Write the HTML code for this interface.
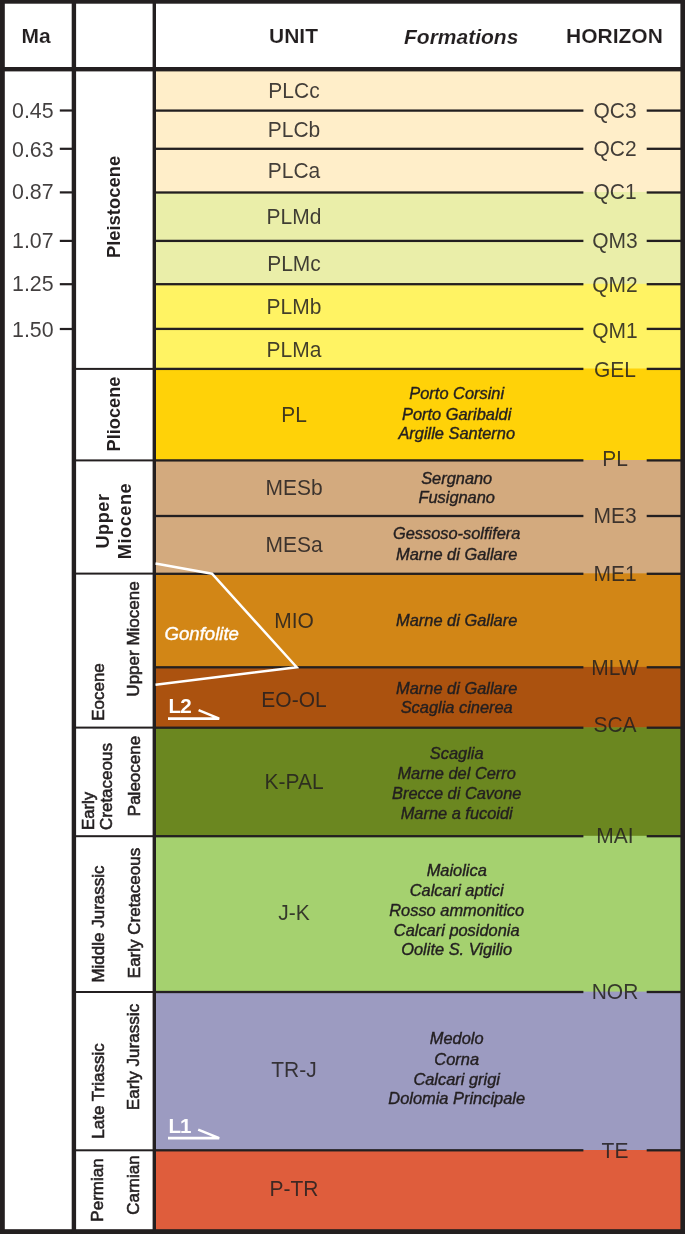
<!DOCTYPE html>
<html lang="en"><head><meta charset="utf-8"><title>Stratigraphic chart</title>
<style>
html,body{margin:0;padding:0;background:#fff;}
body{width:685px;height:1234px;position:relative;overflow:hidden;font-family:"Liberation Sans",sans-serif;color:#231f20;}
#c{position:absolute;left:0;top:0;width:685px;height:1234px;overflow:hidden;}
#c div{position:absolute;}
.k{background:#231f20;}
.t{white-space:nowrap;line-height:1;}
.u{color:rgba(35,31,32,.86);font-size:21.6px;transform:translate(-50%,-50%) scaleX(0.972);}
.h{color:rgba(35,31,32,.86);font-size:21.6px;transform:translate(-50%,-50%) scaleX(0.972);}
.f{font-size:16.4px;font-style:italic;-webkit-text-stroke:0.4px #231f20;transform:translate(-50%,0);}
.m{color:rgba(35,31,32,.86);font-size:22px;transform-origin:0 50%;transform:translate(0,-50%) scaleX(0.972);}
.hd{font-size:21px;font-weight:bold;-webkit-text-stroke:0.12px #fff;}
.r{transform-origin:0 0;}
.w{color:#fff;}
</style></head><body><div id="c">
<svg style="position:absolute;left:0;top:0" width="685" height="1234" viewBox="0 0 685 1234">
<rect x="154" y="69" width="527.6" height="123.6" fill="#ffeec9"/>
<rect x="154" y="192" width="527.6" height="92.4" fill="#eaeea9"/>
<rect x="154" y="283.8" width="527.6" height="85.3" fill="#fff363"/>
<rect x="154" y="368.5" width="527.6" height="92.1" fill="#ffd208"/>
<rect x="154" y="460" width="527.6" height="113.9" fill="#d3aa7e"/>
<rect x="154" y="573.3" width="527.6" height="94.2" fill="#d28616"/>
<rect x="154" y="666.9" width="527.6" height="61" fill="#ab520f"/>
<rect x="154" y="727.3" width="527.6" height="109.1" fill="#6b8720"/>
<rect x="154" y="835.8" width="527.6" height="156.4" fill="#a5d16f"/>
<rect x="154" y="991.6" width="527.6" height="159" fill="#9c9bc1"/>
<rect x="154" y="1150" width="527.6" height="81.6" fill="#df5d3c"/>
<g fill="#231f20">
<rect x="0" y="0" width="4.8" height="1234"/>
<rect x="0" y="0" width="685" height="3.7"/>
<rect x="680.4" y="0" width="4.6" height="1234"/>
<rect x="0" y="1229.2" width="685" height="4.8"/>
<rect x="0" y="67" width="685" height="4.4"/>
<rect x="71.7" y="0" width="4.4" height="1234"/>
<rect x="152.6" y="0" width="3.4" height="1234"/>
<rect x="155" y="109.45" width="428.4" height="2.3"/>
<rect x="646.7" y="109.45" width="34.9" height="2.3"/>
<rect x="155" y="147.65" width="428.4" height="2.3"/>
<rect x="646.7" y="147.65" width="34.9" height="2.3"/>
<rect x="155" y="191.35" width="428.4" height="2.3"/>
<rect x="646.7" y="191.35" width="34.9" height="2.3"/>
<rect x="155" y="239.75" width="428.4" height="2.3"/>
<rect x="646.7" y="239.75" width="34.9" height="2.3"/>
<rect x="155" y="283.05" width="428.4" height="2.3"/>
<rect x="646.7" y="283.05" width="34.9" height="2.3"/>
<rect x="155" y="327.75" width="428.4" height="2.3"/>
<rect x="646.7" y="327.75" width="34.9" height="2.3"/>
<rect x="155" y="367.75" width="428.4" height="2.3"/>
<rect x="646.7" y="367.75" width="34.9" height="2.3"/>
<rect x="155" y="459.25" width="428.4" height="2.3"/>
<rect x="646.7" y="459.25" width="34.9" height="2.3"/>
<rect x="155" y="514.85" width="428.4" height="2.3"/>
<rect x="646.7" y="514.85" width="34.9" height="2.3"/>
<rect x="155" y="572.65" width="428.4" height="2.3"/>
<rect x="646.7" y="572.65" width="34.9" height="2.3"/>
<rect x="155" y="666.15" width="428.4" height="2.3"/>
<rect x="646.7" y="666.15" width="34.9" height="2.3"/>
<rect x="155" y="726.55" width="428.4" height="2.3"/>
<rect x="646.7" y="726.55" width="34.9" height="2.3"/>
<rect x="155" y="835.05" width="428.4" height="2.3"/>
<rect x="646.7" y="835.05" width="34.9" height="2.3"/>
<rect x="155" y="990.85" width="428.4" height="2.3"/>
<rect x="646.7" y="990.85" width="34.9" height="2.3"/>
<rect x="155" y="1149.15" width="428.4" height="2.3"/>
<rect x="646.7" y="1149.15" width="34.9" height="2.3"/>
<rect x="75" y="367.9" width="79" height="2"/>
<rect x="75" y="459.4" width="79" height="2"/>
<rect x="75" y="572.6" width="79" height="2"/>
<rect x="75" y="726.6" width="79" height="2"/>
<rect x="75" y="835.2" width="79" height="2"/>
<rect x="75" y="991" width="79" height="2"/>
<rect x="75" y="1149.3" width="79" height="2"/>
<rect x="59.8" y="109.4" width="13" height="2.2"/>
<rect x="59.8" y="147.7" width="13" height="2.2"/>
<rect x="59.8" y="191.3" width="13" height="2.2"/>
<rect x="59.8" y="239.8" width="13" height="2.2"/>
<rect x="59.8" y="283.1" width="13" height="2.2"/>
<rect x="59.8" y="327.9" width="13" height="2.2"/>
</g></svg>
<div class="t h" style="left:614.5px;top:111.05px">QC3</div>
<div class="t h" style="left:614.5px;top:149.25px">QC2</div>
<div class="t h" style="left:614.5px;top:191.55px">QC1</div>
<div class="t h" style="left:614.5px;top:241.35px">QM3</div>
<div class="t h" style="left:614.5px;top:285.35px">QM2</div>
<div class="t h" style="left:614.5px;top:330.55px">QM1</div>
<div class="t h" style="left:614.5px;top:369.95px">GEL</div>
<div class="t h" style="left:614.5px;top:459.25px">PL</div>
<div class="t h" style="left:614.5px;top:515.95px">ME3</div>
<div class="t h" style="left:614.5px;top:573.55px">ME1</div>
<div class="t h" style="left:614.5px;top:668.45px">MLW</div>
<div class="t h" style="left:614.5px;top:725.45px">SCA</div>
<div class="t h" style="left:614.5px;top:836.35px">MAI</div>
<div class="t h" style="left:614.5px;top:991.85px">NOR</div>
<div class="t h" style="left:614.5px;top:1150.55px">TE</div>
<div class="t m" style="left:12px;top:110.8px">0.45</div>
<div class="t m" style="left:12px;top:150.2px">0.63</div>
<div class="t m" style="left:12px;top:192.1px">0.87</div>
<div class="t m" style="left:12px;top:240.9px">1.07</div>
<div class="t m" style="left:12px;top:284.1px">1.25</div>
<div class="t m" style="left:12px;top:329.5px">1.50</div>
<div class="t u" style="left:293.7px;top:91.15px">PLCc</div>
<div class="t u" style="left:293.7px;top:130.25px">PLCb</div>
<div class="t u" style="left:293.7px;top:171.05px">PLCa</div>
<div class="t u" style="left:293.7px;top:217.05px">PLMd</div>
<div class="t u" style="left:293.7px;top:263.95px">PLMc</div>
<div class="t u" style="left:293.7px;top:307.25px">PLMb</div>
<div class="t u" style="left:293.7px;top:349.55px">PLMa</div>
<div class="t u" style="left:293.7px;top:414.95px">PL</div>
<div class="t u" style="left:293.7px;top:488.05px">MESb</div>
<div class="t u" style="left:293.7px;top:544.55px">MESa</div>
<div class="t u" style="left:293.7px;top:621.35px">MIO</div>
<div class="t u" style="left:293.7px;top:699.75px">EO-OL</div>
<div class="t u" style="left:293.7px;top:782.05px">K-PAL</div>
<div class="t u" style="left:293.7px;top:912.95px">J-K</div>
<div class="t u" style="left:293.7px;top:1069.55px">TR-J</div>
<div class="t u" style="left:293.7px;top:1188.55px">P-TR</div>
<div class="t f" style="left:456.7px;top:385.296px">Porto Corsini</div>
<div class="t f" style="left:456.7px;top:405.596px">Porto Garibaldi</div>
<div class="t f" style="left:456.7px;top:425.196px">Argille Santerno</div>
<div class="t f" style="left:456.7px;top:469.996px">Sergnano</div>
<div class="t f" style="left:456.7px;top:489.196px">Fusignano</div>
<div class="t f" style="left:456.7px;top:524.996px">Gessoso-solfifera</div>
<div class="t f" style="left:456.7px;top:545.796px">Marne di Gallare</div>
<div class="t f" style="left:456.7px;top:612.396px">Marne di Gallare</div>
<div class="t f" style="left:456.7px;top:679.696px">Marne di Gallare</div>
<div class="t f" style="left:456.7px;top:699.296px">Scaglia cinerea</div>
<div class="t f" style="left:456.7px;top:744.996px">Scaglia</div>
<div class="t f" style="left:456.7px;top:764.896px">Marne del Cerro</div>
<div class="t f" style="left:456.7px;top:784.796px">Brecce di Cavone</div>
<div class="t f" style="left:456.7px;top:805.096px">Marne a fucoidi</div>
<div class="t f" style="left:456.7px;top:862.396px">Maiolica</div>
<div class="t f" style="left:456.7px;top:882.396px">Calcari aptici</div>
<div class="t f" style="left:456.7px;top:902.296px">Rosso ammonitico</div>
<div class="t f" style="left:456.7px;top:921.896px">Calcari posidonia</div>
<div class="t f" style="left:456.7px;top:941.196px">Oolite S. Vigilio</div>
<div class="t f" style="left:456.7px;top:1030px">Medolo</div>
<div class="t f" style="left:456.7px;top:1050.6px">Corna</div>
<div class="t f" style="left:456.7px;top:1070.8px">Calcari grigi</div>
<div class="t f" style="left:456.7px;top:1090.2px">Dolomia Principale</div>
<div class="t hd" style="left:21.5px;top:25.2px">Ma</div>
<div class="t hd" style="left:269px;top:25.2px">UNIT</div>
<div class="t hd" style="left:404px;top:25.8px;font-style:italic;-webkit-text-stroke:0.1px #fff">Formations</div>
<div class="t hd" style="left:566px;top:25.2px">HORIZON</div>
<div class="t" style="left:114px;top:207px;font-size:18.4px;font-weight:bold;transform:translate(-50%,-50%) rotate(-90deg)">Pleistocene</div>
<div class="t" style="left:114.2px;top:414.2px;font-size:18.2px;font-weight:bold;transform:translate(-50%,-50%) rotate(-90deg)">Pliocene</div>
<div class="t" style="left:103px;top:521.4px;font-size:18.2px;font-weight:bold;letter-spacing:0.5px;transform:translate(-50%,-50%) rotate(-90deg)">Upper</div>
<div class="t" style="left:124.9px;top:521.4px;font-size:18.2px;font-weight:bold;letter-spacing:0.5px;transform:translate(-50%,-50%) rotate(-90deg)">Miocene</div>
<div class="t" style="left:97.5px;top:692px;font-size:17px;-webkit-text-stroke:0.55px #231f20;transform:translate(-50%,-50%) rotate(-90deg)">Eocene</div>
<div class="t" style="left:133px;top:639px;font-size:17px;-webkit-text-stroke:0.55px #231f20;transform:translate(-50%,-50%) rotate(-90deg)">Upper Miocene</div>
<div class="t" style="left:88.6px;top:830.4px;font-size:16.8px;-webkit-text-stroke:0.55px #231f20;transform-origin:0 0;transform:rotate(-90deg) translate(0,-50%)">Early</div>
<div class="t" style="left:105.5px;top:830.4px;font-size:17px;-webkit-text-stroke:0.55px #231f20;transform-origin:0 0;transform:rotate(-90deg) translate(0,-50%)">Cretaceous</div>
<div class="t" style="left:133.6px;top:775.5px;font-size:17px;-webkit-text-stroke:0.55px #231f20;transform:translate(-50%,-50%) rotate(-90deg)">Paleocene</div>
<div class="t" style="left:97.6px;top:924px;font-size:17px;-webkit-text-stroke:0.55px #231f20;transform:translate(-50%,-50%) rotate(-90deg)">Middle Jurassic</div>
<div class="t" style="left:133.6px;top:912.5px;font-size:17px;-webkit-text-stroke:0.55px #231f20;transform:translate(-50%,-50%) rotate(-90deg)">Early Cretaceous</div>
<div class="t" style="left:97.6px;top:1091px;font-size:17px;-webkit-text-stroke:0.55px #231f20;transform:translate(-50%,-50%) rotate(-90deg)">Late Triassic</div>
<div class="t" style="left:133.6px;top:1057.2px;font-size:17.1px;-webkit-text-stroke:0.55px #231f20;transform:translate(-50%,-50%) rotate(-90deg)">Early Jurassic</div>
<div class="t" style="left:96.9px;top:1190.2px;font-size:17px;-webkit-text-stroke:0.55px #231f20;transform:translate(-50%,-50%) rotate(-90deg)">Permian</div>
<div class="t" style="left:132.8px;top:1185.1px;font-size:17px;-webkit-text-stroke:0.55px #231f20;transform:translate(-50%,-50%) rotate(-90deg)">Carnian</div>
<svg style="position:absolute;left:0;top:0" width="685" height="1234" viewBox="0 0 685 1234">
<polyline points="155.5,563.4 212,573.7 296.7,667.2 155.5,684.8" fill="none" stroke="#fff" stroke-width="2.5" stroke-linejoin="miter"/>
<path d="M168,718.6 H219.2 L198.6,710.1" fill="none" stroke="#fff" stroke-width="2.6"/>
<path d="M168,1138.1 H219.2 L198.2,1129.6" fill="none" stroke="#fff" stroke-width="2.6"/>
</svg>
<div class="t w" style="left:164.5px;top:624.8px;font-size:18.6px;font-style:italic;-webkit-text-stroke:0.4px #fff">Gonfolite</div>
<div class="t w" style="left:168.4px;top:695.5px;font-size:20.6px;font-weight:bold;letter-spacing:-0.6px">L2</div>
<div class="t w" style="left:168.4px;top:1116px;font-size:20.6px;font-weight:bold;letter-spacing:-1px">L1</div>
</div></body></html>
